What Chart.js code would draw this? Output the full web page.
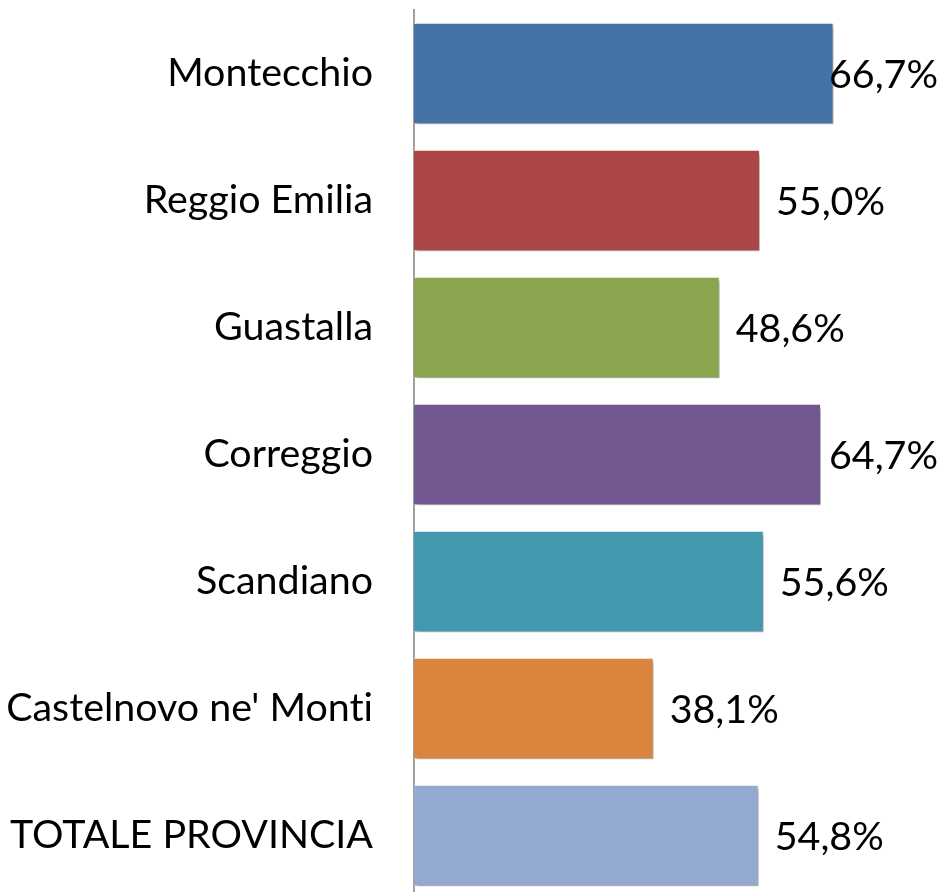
<!DOCTYPE html>
<html>
<head>
<meta charset="utf-8">
<script src="https://cdn.jsdelivr.net/npm/chart.js@4"></script>
<style>
html,body{margin:0;padding:0;background:#fff;overflow:hidden;}
#wrap{width:946px;height:900px;position:relative;}
</style>
</head>
<body>
<div id="wrap"><canvas id="c" width="946" height="900"></canvas></div>
<script>
const categories = ["Montecchio", "Reggio Emilia", "Guastalla", "Correggio", "Scandiano", "Castelnovo ne' Monti", "TOTALE PROVINCIA"];
const values = [66.7, 55.0, 48.6, 64.7, 55.6, 38.1, 54.8];
const valueLabels = ["66,7%", "55,0%", "48,6%", "64,7%", "55,6%", "38,1%", "54,8%"];
const barColors = ["#4572A7", "#AA4643", "#89A54E", "#71588F", "#4198AF", "#DB843D", "#93A9CF"];

const FONT_FAMILY = "Lato, 'Open Sans', sans-serif";
const FONT_SIZE = 39.4;

const textPlugin = {
  id: 'textRender',
  beforeDraw(chart) {
    try { chart.ctx.textRendering = 'optimizeSpeed'; } catch (e) {}
  }
};

const shadowPlugin = {
  id: 'barShadow',
  beforeDatasetsDraw(chart) {
    const ctx = chart.ctx;
    ctx.save();
    ctx.shadowColor = 'rgba(0,0,0,0.35)';
    ctx.shadowBlur = 4;
    ctx.shadowOffsetX = 2;
    ctx.shadowOffsetY = 3;
  },
  afterDatasetsDraw(chart) {
    chart.ctx.restore();
  }
};

const labelPlugin = {
  id: 'valueLabels',
  afterDraw(chart) {
    const ctx = chart.ctx;
    const meta = chart.getDatasetMeta(0);
    ctx.save();
    ctx.font = FONT_SIZE + 'px ' + FONT_FAMILY;
    ctx.fillStyle = '#000';
    ctx.textBaseline = 'middle';
    ctx.textAlign = 'left';
    meta.data.forEach((bar, i) => {
      const txt = valueLabels[i];
      const w = ctx.measureText(txt).width;
      let x = bar.x + 16;
      const maxRight = 938;
      if (x + w > maxRight) x = maxRight - w;
      ctx.fillText(txt, x, bar.y + 2);
    });
    ctx.restore();
  }
};

new Chart(document.getElementById('c'), {
  type: 'bar',
  data: {
    labels: categories,
    datasets: [{
      data: values,
      backgroundColor: barColors,
      borderColor: 'rgba(255,255,255,0.7)',
      borderWidth: 1,
      barPercentage: 0.8,
      categoryPercentage: 1.0
    }]
  },
  options: {
    indexAxis: 'y',
    responsive: false,
    animation: false,
    layout: { padding: { top: 10, bottom: 1, right: 3.6, left: 0 } },
    plugins: { legend: { display: false }, tooltip: { enabled: false } },
    scales: {
      x: { display: false, min: 0, max: 84 },
      y: {
        afterFit(scale) { scale.width = 414; scale.paddingTop = 0; scale.paddingBottom = 0; },
        grid: { display: false, drawTicks: false },
        border: { display: true, color: '#a0a0a0', width: 2 },
        ticks: {
          padding: 41,
          color: '#000',
          font: { family: FONT_FAMILY, size: FONT_SIZE }
        }
      }
    }
  },
  plugins: [textPlugin, shadowPlugin, labelPlugin]
});
</script>
</body>
</html>
